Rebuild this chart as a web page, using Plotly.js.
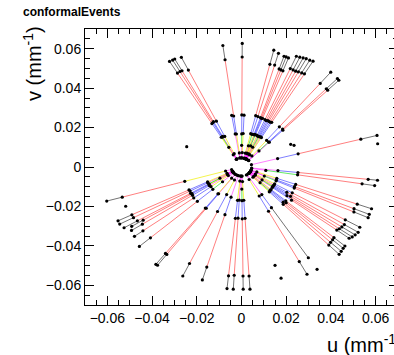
<!DOCTYPE html>
<html>
<head>
<meta charset="utf-8">
<script src="https://cdn.plot.ly/plotly-3.0.1.min.js"></script>
<style>
  html, body { margin: 0; padding: 0; overflow: hidden; background: #fff; }
  #chart { width: 398px; height: 355px; }
</style>
</head>
<body>
<div id="chart"></div>
<script>
// Conformal-space track hits. Each track: azimuth (deg) and hit radius (mm^-1)
// for each of 7 layers, outermost first; null = no hit in that layer.
const trackPhi = [
  121.0, 119.6, 118.6, 115.8,
  97.7, 99.5, 89.7, 87.5,
  76.3, 74.0, 71.3, 70.3, 69.2,
  66.4, 64.9, 63.5, 62.2, 60.6, 59.2,
  50.3, 46.3, 45.3,
  14.8, -6.3, -9.0,
  -20.0, -22.8, -24.4, -30.0, -32.4, -34.1, -35.6, -36.9, -40.9, -42.2, -43.8, -45.4,
  -61.7, -57.0,
  -96.0, -93.4, -89.3, -86.5,
  -153.7, -152.0, -149.6, -148.5, -146.8, -143.7, -138.6, -127.8, -127.0, -115.4, -107.0,
  -164.0
];
const trackHitR = [
  [0.0625, 0.0556, 0.0257, 0.0176, null, 0.0072, 0.0046],
  [0.0624, 0.0557, 0.0259, 0.0174, 0.0115, null, 0.0046],
  [0.0624, 0.0556, 0.0262, 0.0177, null, null, 0.0045],
  [0.0618, 0.0546, 0.0258, 0.0172, null, 0.0075, 0.0046],
  [0.0622, 0.0549, 0.0261, 0.0169, null, 0.0072, 0.0046],
  [null, null, 0.0266, 0.0170, null, null, 0.0047],
  [0.0627, 0.0558, 0.0264, 0.0168, 0.0110, null, 0.0046],
  [null, null, 0.0263, 0.0170, null, 0.0073, 0.0046],
  [0.0610, 0.0536, 0.0268, 0.0174, null, 0.0072, 0.0046],
  [0.0600, 0.0538, 0.0266, 0.0172, 0.0112, null, 0.0046],
  [0.0593, 0.0525, 0.0265, 0.0175, null, 0.0075, 0.0045],
  [0.0593, 0.0523, 0.0262, 0.0173, null, null, 0.0046],
  [0.0592, 0.0522, 0.0264, 0.0176, 0.0115, 0.0072, 0.0046],
  [0.0613, 0.0545, 0.0262, 0.0175, null, 0.0073, 0.0046],
  [0.0615, 0.0544, 0.0260, 0.0172, null, null, 0.0045],
  [0.0618, 0.0543, 0.0263, 0.0174, 0.0112, null, 0.0046],
  [0.0621, 0.0546, 0.0262, 0.0173, null, 0.0074, 0.0046],
  [0.0622, 0.0548, 0.0261, 0.0176, null, null, 0.0046],
  [0.0625, 0.0550, 0.0264, 0.0174, null, 0.0071, 0.0045],
  [0.0625, 0.0551, 0.0265, 0.0176, null, 0.0073, 0.0046],
  [0.0621, 0.0549, 0.0266, 0.0175, 0.0113, null, 0.0046],
  [0.0619, 0.0548, 0.0263, 0.0177, null, null, 0.0046],
  [0.0627, 0.0552, 0.0262, 0.0167, null, null, 0.0046],
  [0.0612, 0.0570, 0.0254, 0.0164, null, null, 0.0046],
  [0.0603, 0.0546, 0.0254, null, 0.0110, null, 0.0046],
  [0.0619, 0.0551, 0.0258, 0.0168, null, 0.0073, 0.0046],
  [0.0620, 0.0546, 0.0257, 0.0169, null, null, 0.0046],
  [0.0622, 0.0552, 0.0259, 0.0170, 0.0112, null, 0.0045],
  [0.0611, 0.0536, 0.0262, 0.0171, null, 0.0072, 0.0046],
  [0.0618, 0.0545, 0.0240, 0.0172, null, null, 0.0046],
  [0.0614, 0.0542, 0.0265, 0.0170, null, 0.0074, 0.0046],
  [0.0609, 0.0538, 0.0250, 0.0173, 0.0113, null, 0.0046],
  [0.0602, 0.0533, 0.0280, 0.0172, null, null, 0.0045],
  [0.0612, 0.0547, 0.0262, 0.0175, null, 0.0072, 0.0046],
  [0.0614, 0.0550, 0.0270, 0.0174, null, null, 0.0046],
  [0.0618, 0.0552, 0.0258, 0.0176, 0.0115, null, 0.0046],
  [0.0622, 0.0556, 0.0266, 0.0177, null, 0.0073, 0.0046],
  [0.0618, 0.0545, 0.0255, 0.0167, null, 0.0072, 0.0046],
  [0.0549, 0.0246, null, 0.0167, null, null, 0.0046],
  [0.0620, 0.0555, 0.0262, 0.0170, null, 0.0072, 0.0046],
  [0.0621, 0.0550, 0.0260, 0.0168, null, null, 0.0046],
  [0.0620, 0.0553, 0.0263, 0.0171, 0.0112, null, 0.0046],
  [0.0621, 0.0554, 0.0261, 0.0169, null, 0.0074, 0.0046],
  [0.0616, 0.0547, 0.0262, 0.0169, null, 0.0072, 0.0046],
  [0.0617, 0.0547, 0.0260, 0.0171, null, null, 0.0046],
  [0.0609, 0.0540, 0.0264, 0.0168, 0.0112, null, 0.0046],
  [0.0576, 0.0516, 0.0259, 0.0170, null, 0.0074, 0.0045],
  [0.0588, 0.0530, 0.0262, 0.0172, null, null, 0.0046],
  [0.0594, 0.0547, 0.0265, 0.0169, null, 0.0073, 0.0046],
  [0.0609, 0.0543, 0.0263, 0.0171, 0.0113, null, 0.0046],
  [0.0625, 0.0555, 0.0264, 0.0172, null, 0.0072, 0.0046],
  [0.0624, 0.0555, 0.0262, 0.0170, null, null, 0.0046],
  [0.0612, 0.0542, 0.0250, 0.0155, null, 0.0073, 0.0046],
  [0.0599, 0.0531, 0.0253, 0.0160, null, null, 0.0046],
  [0.0627, 0.0555, 0.0264, null, null, 0.0074, 0.0046]
];
// Hits not attached to any track.
const strayU = [-0.0245, -0.0518, 0.0609, 0.0220, 0.0235, 0.0150, 0.0177, 0.0338];
const strayV = [0.0103, -0.0199, 0.0118, 0.0115, 0.0110, -0.0499, -0.0564, -0.0519];

const axisTicks = [-0.06, -0.04, -0.02, 0, 0.02, 0.04, 0.06];

// Segment colour is set by the inner layer of the pair it joins.
const pairColor = [null,
  'rgba(0,0,0,0.55)', 'rgba(255,0,0,0.5)', 'rgba(0,0,255,0.5)',
  'rgba(0,220,0,0.6)', 'rgba(240,240,0,0.7)', 'rgba(255,0,255,0.5)'];
const drawOrder = [6, 5, 4, 3, 2, 1];

const segs = {};
drawOrder.forEach(k => { segs[k] = { x: [], y: [] }; });
const hitU = [], hitV = [];

trackHitR.forEach((radii, i) => {
  const a = trackPhi[i] * Math.PI / 180;
  const pts = [];
  radii.forEach((r, layer) => {
    if (r === null) return;
    const p = { layer, u: r * Math.cos(a), v: r * Math.sin(a) };
    pts.push(p);
    hitU.push(p.u); hitV.push(p.v);
  });
  for (let j = 0; j + 1 < pts.length; j++) {
    const s = segs[pts[j + 1].layer];
    s.x.push(pts[j].u, pts[j + 1].u, null);
    s.y.push(pts[j].v, pts[j + 1].v, null);
  }
});
strayU.forEach((u, i) => { hitU.push(u); hitV.push(strayV[i]); });

const traces = drawOrder.map(k => ({
  type: 'scatter', mode: 'lines', x: segs[k].x, y: segs[k].y,
  line: { color: pairColor[k], width: 1 }, hoverinfo: 'skip', showlegend: false
}));
traces.push({
  type: 'scatter', mode: 'markers', x: hitU, y: hitV,
  marker: { color: '#000', size: 3.2, symbol: 'circle' },
  hoverinfo: 'skip', showlegend: false
});

const font = 'Liberation Sans, Arial, Helvetica, sans-serif';
function axis(range) {
  return {
    range, tickvals: axisTicks, showline: true, linecolor: '#000', linewidth: 1,
    mirror: 'allticks', ticks: 'inside', ticklen: 9, tickwidth: 1, tickcolor: '#000',
    showgrid: false, zeroline: false, fixedrange: true,
    tickfont: { family: font, size: 14, color: '#000' },
    minor: { dtick: 0.005, tick0: 0, ticks: 'inside', ticklen: 5, tickwidth: 1, tickcolor: '#000', showgrid: false }
  };
}

const W = 398, H = 355, L = 85, T = 29, PW = 313, PH = 276;
const px = x => (x - L) / PW;
const py = y => (T + PH - y) / PH;

const layout = {
  width: W, height: H,
  margin: { l: L, r: W - L - PW, t: T, b: H - T - PH, pad: 0 },
  paper_bgcolor: '#fff', plot_bgcolor: '#fff',
  xaxis: axis([-0.07, 0.07]),
  yaxis: axis([-0.07, 0.07]),
  showlegend: false,
  annotations: [
    { text: '<b>conformalEvents</b>', xref: 'paper', yref: 'paper', x: px(21), y: py(11.5),
      xanchor: 'left', yanchor: 'middle', showarrow: false, font: { family: font, size: 12, color: '#000' } },
    { text: 'v (mm<sup>-1</sup>)', xref: 'paper', yref: 'paper', x: px(32), y: py(64),
      xanchor: 'center', yanchor: 'middle', textangle: -90, showarrow: false,
      font: { family: font, size: 20, color: '#000' } },
    { text: 'u (mm<sup>-1</sup>)', xref: 'paper', yref: 'paper', x: px(325), y: py(343),
      xanchor: 'left', yanchor: 'middle', showarrow: false,
      font: { family: font, size: 20, color: '#000' } }
  ]
};

Plotly.newPlot('chart', traces, layout, { displayModeBar: false, staticPlot: true });
</script>
</body>
</html>
